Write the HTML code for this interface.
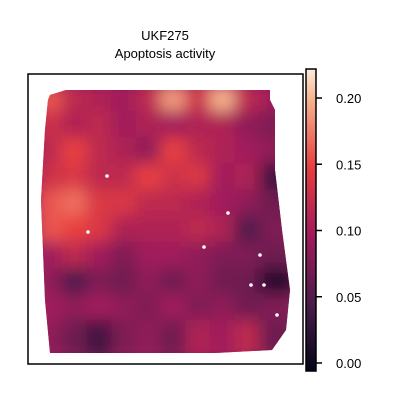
<!DOCTYPE html>
<html><head><meta charset="utf-8"><style>body{margin:0;background:#fff}svg{display:block;font-family:"Liberation Sans","DejaVu Sans",sans-serif}</style></head>
<body>
<svg id="c" width="400" height="400">
<defs>
<clipPath id="tissue"><polygon points="50,95 66,90 270,90 270,100 275,110 275,170 282,230 290,290 286,330 272,350 215,353 50,353 45,300 41,200 45,130 48,100"/></clipPath>
<filter id="bl" x="-20%" y="-20%" width="140%" height="140%"><feGaussianBlur stdDeviation="8"/></filter>
<linearGradient id="cbg" x1="0" y1="1" x2="0" y2="0">
<stop offset="0" stop-color="#03051a"/><stop offset="0.2252" stop-color="#4c1d4b"/><stop offset="0.45" stop-color="#a11a5b"/><stop offset="0.675" stop-color="#e83f3f"/><stop offset="0.9" stop-color="#f6b48f"/><stop offset="1" stop-color="#faebdd"/>
</linearGradient>
</defs>
<text x="165" y="40" text-anchor="middle" font-size="13">UKF275</text>
<text x="165" y="58" text-anchor="middle" font-size="13">Apoptosis activity</text>
<g clip-path="url(#tissue)"><rect x="30" y="80" width="270" height="280" fill="#9a1b5b"/><g id="cells" filter="url(#bl)"></g></g>
<g id="dots"></g>
<rect x="28" y="74" width="275" height="290" fill="none" stroke="#000" stroke-width="1.5"/>
<rect x="306" y="69" width="10" height="302" fill="url(#cbg)" stroke="#000" stroke-width="1.5"/>
<g id="cbticks"></g>
</svg>
<script>
const grid = [
[0.16,0.12,0.11,0.10,0.12,0.19,0.13,0.20,0.12,0.10],
[0.13,0.11,0.12,0.10,0.11,0.10,0.11,0.11,0.09,0.08],
[0.12,0.15,0.12,0.11,0.09,0.15,0.12,0.11,0.10,0.09],
[0.13,0.14,0.12,0.12,0.15,0.13,0.14,0.10,0.11,0.04],
[0.16,0.17,0.14,0.14,0.12,0.12,0.11,0.10,0.09,0.07],
[0.16,0.15,0.14,0.11,0.11,0.11,0.12,0.11,0.05,0.08],
[0.10,0.12,0.10,0.08,0.10,0.10,0.09,0.08,0.08,0.07],
[0.09,0.05,0.08,0.07,0.09,0.07,0.09,0.07,0.07,0.02],
[0.10,0.09,0.10,0.09,0.08,0.10,0.08,0.09,0.07,0.08],
[0.09,0.07,0.04,0.08,0.09,0.07,0.11,0.10,0.12,0.07]];
const missingX = [107,88,228,204,260,251,264,277];
const missingY = [176,232,213,247,255,285,285,315];
const ticks = [0,0.05,0.10,0.15,0.20];
const tickLabels = ["0.00","0.05","0.10","0.15","0.20"];
const NS="http://www.w3.org/2000/svg";
const x0=43,x1=290,y0=91,y1=352,vmax=0.222;
const stops=[[0,[3,5,26]],[0.05,[76,29,75]],[0.10,[161,26,91]],[0.15,[232,63,63]],[0.20,[246,180,143]],[0.222,[250,235,221]]];
function cmap(v){for(let i=1;i<stops.length;i++){if(v<=stops[i][0]){const a=stops[i-1],b=stops[i],t=(v-a[0])/(b[0]-a[0]);return `rgb(${a[1].map((c,k)=>Math.round(c+(b[1][k]-c)*t)).join(',')})`;}}return 'rgb(250,235,221)';}
const cw=(x1-x0)/grid[0].length, ch=(y1-y0)/grid.length;
const cells=document.getElementById('cells');
grid.forEach((row,r)=>row.forEach((v,c)=>{
 const e=document.createElementNS(NS,'rect');
 e.setAttribute('x',x0+c*cw-6);e.setAttribute('y',y0+r*ch-6);e.setAttribute('width',cw+12);e.setAttribute('height',ch+12);
 e.setAttribute('fill',cmap(v));
 
 
 cells.appendChild(e);}));
const dots=document.getElementById('dots');
missingX.forEach((x,i)=>{const e=document.createElementNS(NS,'circle');e.setAttribute('cx',x);e.setAttribute('cy',missingY[i]);e.setAttribute('r',1.8);e.setAttribute('fill','#fff');
 
 
 dots.appendChild(e);});
const cb=document.getElementById('cbticks');
const cy=v=>363-v/0.20*265;
ticks.forEach((t,i)=>{const y=cy(t);
 const l=document.createElementNS(NS,'line');l.setAttribute('x1',316);l.setAttribute('x2',322);l.setAttribute('y1',y);l.setAttribute('y2',y);l.setAttribute('stroke','#000');l.setAttribute('stroke-width',1.5);
 
 
 cb.appendChild(l);
 const tx=document.createElementNS(NS,'text');tx.setAttribute('x',336);tx.setAttribute('y',y+5);tx.setAttribute('font-size','13');tx.textContent=tickLabels[i];
 
 
 cb.appendChild(tx);});
</script>
</body></html>
